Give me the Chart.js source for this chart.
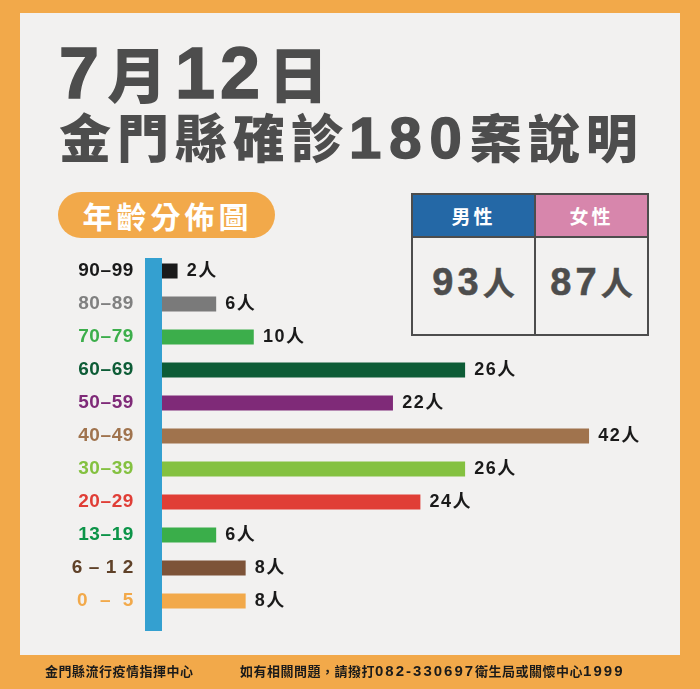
<!DOCTYPE html>
<html lang="zh-Hant">
<head>
<meta charset="utf-8">
<title>金門縣確診180案說明</title>
<script src="https://cdn.jsdelivr.net/npm/chart.js@4.4.0/dist/chart.umd.min.js"></script>
<style>
  html, body { margin: 0; padding: 0; }
  body { width: 700px; height: 689px; position: relative; overflow: hidden; background: #f2a94a;
    font-family: "Liberation Sans", "Noto Sans CJK TC", sans-serif; font-weight: 700; }
  .panel { position: absolute; left: 20px; top: 13px; width: 660px; height: 642px; background: #f2f1f0; }
  .line { position: absolute; white-space: nowrap; color: #4d4d4d; -webkit-text-stroke: 1.5px #4d4d4d; }
  .line b { font-family: "Noto Sans CJK TC", sans-serif; font-weight: 900; -webkit-text-stroke: 0; }
  #title1 { left: 59px; top: 28px; font-size: 72px; line-height: 88px; letter-spacing: 8px; }
  #title1 b { font-size: 60px; }
  #title1 i { font-style: normal; letter-spacing: 5px; }
  #title2 { left: 59px; top: 96px; font-size: 58px; line-height: 80px; letter-spacing: 8px; }
  #title2 b { font-size: 52px; letter-spacing: 6px; }
  .pill { position: absolute; left: 58px; top: 192px; width: 217px; height: 46px; border-radius: 23px; background: #f2a94a;
    color: #fff; font-family: "Noto Sans CJK TC", sans-serif; font-size: 30px; line-height: 46px; letter-spacing: 4px; text-indent: 2px; text-align: center; }
  table { position: absolute; left: 411px; top: 193px; width: 238px; height: 143px; border-collapse: collapse; table-layout: fixed; }
  td { border: 2px solid #4d4d4d; padding: 0 0 10px; text-align: center; color: #4d4d4d; font-size: 38px; letter-spacing: 4px; -webkit-text-stroke: .5px #4d4d4d; }
  td span { font-family: "Noto Sans CJK TC", sans-serif; font-size: 32px; letter-spacing: 0; }
  tr.head td { height: 41px; padding: 0; color: #fff; font-family: "Noto Sans CJK TC", sans-serif; font-size: 19px; letter-spacing: 3px; -webkit-text-stroke: 0; }
  .male { background: #2468a6; width: 121px; }
  .female { background: #d786ac; }
  .strip { position: absolute; left: 145px; top: 258px; width: 17px; height: 373px; background: #34a0d0; }
  canvas { position: absolute; left: 0; top: 0; }
  .foot { position: absolute; top: 663px; color: #1a1a1a; font-family: "Noto Sans CJK TC", sans-serif; font-size: 13px; line-height: 16px; white-space: nowrap; letter-spacing: .5px; }
  .foot i { font-family: "Liberation Sans", sans-serif; font-style: normal; font-size: 15px; letter-spacing: 2px; }
</style>
</head>
<body>
<div class="panel"></div>
<div class="line" id="title1">7<b>月</b><i>1</i>2<b>日</b></div>
<div class="line" id="title2"><b>金門縣確診</b>180<b>案說明</b></div>
<div class="pill">年齡分佈圖</div>
<table>
  <tr class="head"><td class="male">男性</td><td class="female">女性</td></tr>
  <tr><td>93<span>人</span></td><td>87<span>人</span></td></tr>
</table>
<div class="strip"></div>
<canvas id="ageChart" width="700" height="689"></canvas>
<div class="foot" style="left:45px">金門縣流行疫情指揮中心</div>
<div class="foot" style="left:240px">如有相關問題，請撥打<i>082-330697</i>衛生局或關懷中心<i>1999</i></div>
<script>
const ageGroups = ['90–99', '80–89', '70–79', '60–69', '50–59', '40–49', '30–39', '20–29', '13–19', '6 – 1 2', '0  –  5'];
// printed counts
const counts = [2, 6, 10, 26, 22, 42, 26, 24, 6, 8, 8];
// bar lengths as drawn in the picture, they do not follow the counts exactly
const barLengths = [1.5, 5.3, 9, 29.8, 22.7, 42, 29.8, 25.4, 5.3, 8.2, 8.2];
const barColors = ['#1a1a1a', '#7a7a7a', '#3cae4b', '#0d5c36', '#7f2a78', '#a0734d', '#84c140', '#e03e36', '#3aae4a', '#7d5338', '#f2a94a'];
const labelColors = ['#1a1a1a', '#808080', '#3cae4b', '#0d5c36', '#7f2a78', '#a0734d', '#84c140', '#e03e36', '#0c9448', '#5f4128', '#f2a94a'];
const CJK_FONT = '"Liberation Sans", "Noto Sans CJK TC", sans-serif';

// "2人" style labels next to each bar, letter spacing also used by the tick labels
const countLabels = {
  id: 'countLabels',
  beforeDraw(chart) {
    chart.ctx.letterSpacing = '0.6px';
  },
  afterDatasetsDraw(chart) {
    const ctx = chart.ctx;
    ctx.save();
    ctx.font = 'bold 18px ' + CJK_FONT;
    ctx.letterSpacing = '1.5px';
    ctx.fillStyle = '#1a1a1a';
    ctx.textBaseline = 'middle';
    chart.getDatasetMeta(0).data.forEach((bar, i) => {
      ctx.fillText(counts[i] + '人', bar.x + 9.5, bar.y);
    });
    ctx.restore();
  }
};

new Chart(document.getElementById('ageChart'), {
  type: 'bar',
  data: {
    labels: ageGroups,
    datasets: [{ data: barLengths, backgroundColor: barColors, barThickness: 14.5 }]
  },
  plugins: [countLabels],
  options: {
    indexAxis: 'y',
    responsive: false,
    animation: false,
    devicePixelRatio: 1,
    layout: { padding: { top: 254.5, bottom: 71.5, right: 30, left: 0 } },
    plugins: { legend: { display: false }, tooltip: { enabled: false } },
    scales: {
      x: { display: false, min: 0, max: 50 },
      y: {
        afterFit(scale) { scale.width = 162; },
        grid: { display: false },
        border: { display: false },
        ticks: {
          padding: 20,
          autoSkip: false,
          color: labelColors,
          font: { family: CJK_FONT, size: 19, weight: 'bold' }
        }
      }
    }
  }
});
</script>
</body>
</html>
